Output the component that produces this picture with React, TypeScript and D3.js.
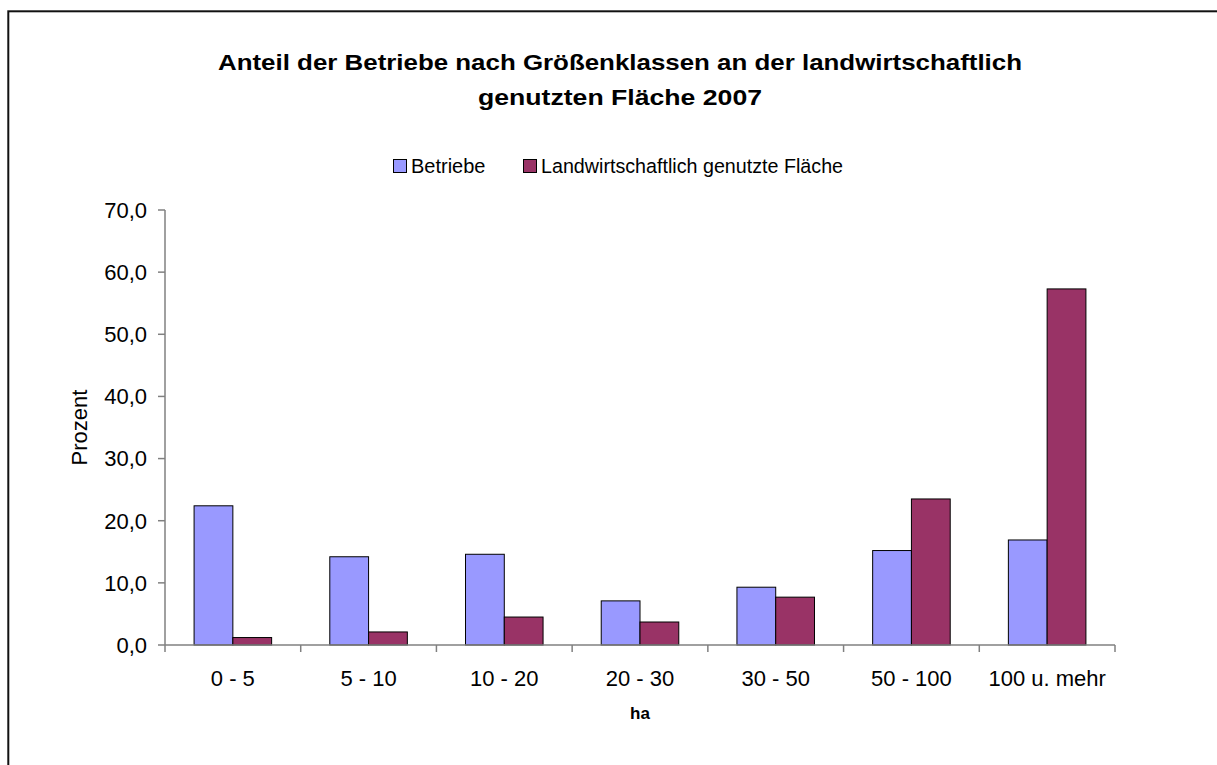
import React from "react";
import * as d3 from "d3";

const categories = ["0 - 5", "5 - 10", "10 - 20", "20 - 30", "30 - 50", "50 - 100", "100 u. mehr"];
const seriesNames = ["Betriebe", "Landwirtschaftlich genutzte Fläche"];
const betriebe = [22.4, 14.2, 14.6, 7.1, 9.3, 15.2, 16.9];
const flaeche = [1.2, 2.1, 4.5, 3.7, 7.7, 23.5, 57.3];
const yTicks = [0, 10, 20, 30, 40, 50, 60, 70];
const titleLines = [
  "Anteil der Betriebe nach Größenklassen an der landwirtschaftlich",
  "genutzten Fläche 2007",
];
const titleWidths = [804, 284];
const colors = ["#9999FF", "#993366"];

const W = 1217;
const H = 765;
const plotLeft = 165;
const plotRight = 1115;
const plotTop = 210;
const plotBottom = 645;
const FONT = "Arial, 'Liberation Sans', sans-serif";

export default function App() {
  const x0 = d3.scaleBand<string>().domain(categories).range([plotLeft, plotRight]).padding(0);
  const x1 = d3
    .scaleBand<string>()
    .domain(seriesNames)
    .range([0, x0.bandwidth()])
    .paddingInner(0)
    .paddingOuter(0.75);
  const y = d3.scaleLinear().domain([0, 70]).range([plotBottom, plotTop]);
  const fmt = (v: number) => d3.format(".1f")(v).replace(".", ",");
  const data = [betriebe, flaeche];
  const axisColor = "#808080";

  const catTicks = [...categories.map((c) => x0(c) as number), plotRight];

  return (
    <svg
      width={W}
      height={H}
      style={{ position: "absolute", left: 0, top: 0, background: "#fff" }}
      fontFamily={FONT}
    >
      <rect x={0} y={0} width={W} height={H} fill="#fff" />
      <rect x={8.3} y={11.3} width={1300} height={1000} fill="none" stroke="#111" strokeWidth={2} />

      {titleLines.map((t, i) => (
        <text
          key={i}
          x={620 - titleWidths[i] / 2}
          y={70 + i * 35}
          fontSize={22}
          fontWeight="bold"
          fill="#000"
          textLength={titleWidths[i]}
          lengthAdjust="spacingAndGlyphs"
        >
          {t}
        </text>
      ))}

      {/* Legend */}
      <rect x={393.5} y={159.5} width={13} height={13} fill={colors[0]} stroke="#000" strokeWidth={1} />
      <text x={411} y={173} fontSize={20} fill="#000">{seriesNames[0]}</text>
      <rect x={523.5} y={159.5} width={13} height={13} fill={colors[1]} stroke="#000" strokeWidth={1} />
      <text x={541} y={173} fontSize={19.7} fill="#000">{seriesNames[1]}</text>

      {/* Bars */}
      {data.map((vals, si) =>
        vals.map((v, ci) => {
          const bx = (x0(categories[ci]) as number) + (x1(seriesNames[si]) as number);
          return (
            <rect
              key={`${si}-${ci}`}
              x={bx}
              y={y(v)}
              width={x1.bandwidth()}
              height={plotBottom - y(v)}
              fill={colors[si]}
              stroke="#000"
              strokeWidth={1}
            />
          );
        })
      )}

      {/* Y axis */}
      <line x1={plotLeft} x2={plotLeft} y1={plotTop} y2={plotBottom} stroke={axisColor} strokeWidth={1.5} />
      {yTicks.map((t) => (
        <g key={t}>
          <line x1={plotLeft - 7} x2={plotLeft} y1={y(t)} y2={y(t)} stroke={axisColor} strokeWidth={1.5} />
          <text x={147} y={y(t)} dy="0.36em" textAnchor="end" fontSize={22} fill="#000">
            {fmt(t)}
          </text>
        </g>
      ))}

      {/* X axis */}
      <line x1={plotLeft} x2={plotRight} y1={plotBottom} y2={plotBottom} stroke={axisColor} strokeWidth={1.5} />
      {catTicks.map((tx, i) => (
        <line key={i} x1={tx} x2={tx} y1={plotBottom} y2={plotBottom + 7} stroke={axisColor} strokeWidth={1.5} />
      ))}
      {categories.map((c) => (
        <text
          key={c}
          x={(x0(c) as number) + x0.bandwidth() / 2}
          y={686}
          textAnchor="middle"
          fontSize={22}
          fill="#000"
        >
          {c}
        </text>
      ))}

      <text x={640} y={719} textAnchor="middle" fontSize={17} fontWeight="bold" fill="#000">ha</text>
      <text
        transform={`translate(87, ${(plotTop + plotBottom) / 2}) rotate(-90)`}
        textAnchor="middle"
        fontSize={22}
        fill="#000"
      >
        Prozent
      </text>
    </svg>
  );
}
